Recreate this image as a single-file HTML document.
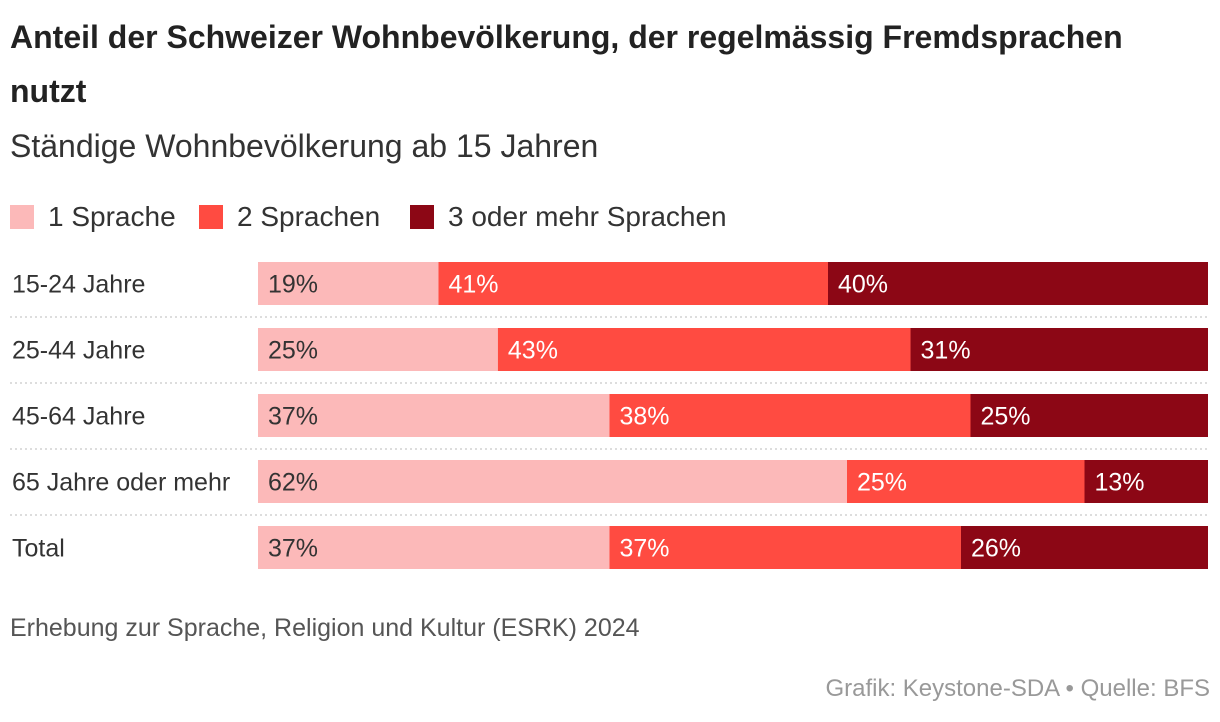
<!DOCTYPE html>
<html><head><meta charset="utf-8">
<style>
body{margin:0;width:1220px;height:722px;background:#fff;font-family:"Liberation Sans",sans-serif;color:#222;position:relative;overflow:hidden}
.t{position:absolute;white-space:nowrap}
#title{left:10px;top:10px;font-size:32px;font-weight:bold;line-height:54px;width:1170px;white-space:normal;letter-spacing:0px}
#sub{left:10px;top:128px;font-size:32px;color:#333;letter-spacing:0px}
.leg{position:absolute;top:201px;font-size:28px;color:#333;display:flex;align-items:center}
.sw{width:24px;height:24px;margin-right:14px}
</style></head><body>
<div class="t" id="title">Anteil der Schweizer Wohnbevölkerung, der regelmässig Fremdsprachen nutzt</div>
<div class="t" id="sub">Ständige Wohnbevölkerung ab 15 Jahren</div>
<div class="leg" style="left:10px"><div class="sw" style="background:#fcb9b9"></div>1 Sprache</div>
<div class="leg" style="left:199px"><div class="sw" style="background:#ff4b41"></div>2 Sprachen</div>
<div class="leg" style="left:410px"><div class="sw" style="background:#8c0715"></div>3 oder mehr Sprachen</div>
<svg id="chart" width="1220" height="600" style="position:absolute;left:0;top:0"></svg>
<div class="t" style="left:10px;top:614px;font-size:25px;color:#555">Erhebung zur Sprache, Religion und Kultur (ESRK) 2024</div>
<div class="t" style="right:10px;top:675px;font-size:24px;color:#999">Grafik: Keystone-SDA • Quelle: BFS</div>
<script>
const categories=["15-24 Jahre","25-44 Jahre","45-64 Jahre","65 Jahre oder mehr","Total"];
const s1=[19,25,37,62,37];
const s2=[41,43,38,25,37];
const s3=[40,31,25,13,26];
const series=[s1,s2,s3];
const colors=["#fcb9b9","#ff4b41","#8c0715"];
const textCol=["#333","#fff","#fff"];
const svg=document.getElementById('chart');
const NS="http://www.w3.org/2000/svg";
const x0=258,x1=1208,top0=262,step=66,bh=43;
function xs(v,sum){return (v/sum)*(x1-x0);}
function yb(i){return top0+i*step;}
categories.forEach((c,i)=>{
  const lab=document.createElementNS(NS,'text');
  lab.setAttribute('x',12);lab.setAttribute('y',yb(i)+bh/2+9);
  lab.setAttribute('font-size','25');lab.setAttribute('fill','#333');
  lab.setAttribute('font-family','Liberation Sans, sans-serif');
  lab.textContent=c;
  
  
  svg.appendChild(lab);
  const sum=s1[i]+s2[i]+s3[i];
  let x=x0;
  series.forEach((s,k)=>{
    const w=xs(s[i],sum);
    const r=document.createElementNS(NS,'rect');
    r.setAttribute('x',x);r.setAttribute('y',yb(i));r.setAttribute('width',w);r.setAttribute('height',bh);
    r.setAttribute('fill',colors[k]);
    
    
    svg.appendChild(r);
    const t=document.createElementNS(NS,'text');
    t.setAttribute('x',x+10);t.setAttribute('y',yb(i)+bh/2+9);
    t.setAttribute('font-size','25');t.setAttribute('fill',textCol[k]);
    t.setAttribute('font-family','Liberation Sans, sans-serif');
    t.textContent=s[i]+'%';
    
    
    svg.appendChild(t);
    x+=w;
  });
  if(i<categories.length-1){
    const l=document.createElementNS(NS,'line');
    const ly=yb(i)+bh+12;
    l.setAttribute('x1',10);l.setAttribute('x2',1208);l.setAttribute('y1',ly);l.setAttribute('y2',ly);
    l.setAttribute('stroke','#bbb');l.setAttribute('stroke-dasharray','2,3');
    
    
    svg.appendChild(l);
  }
});
</script>
</body></html>
